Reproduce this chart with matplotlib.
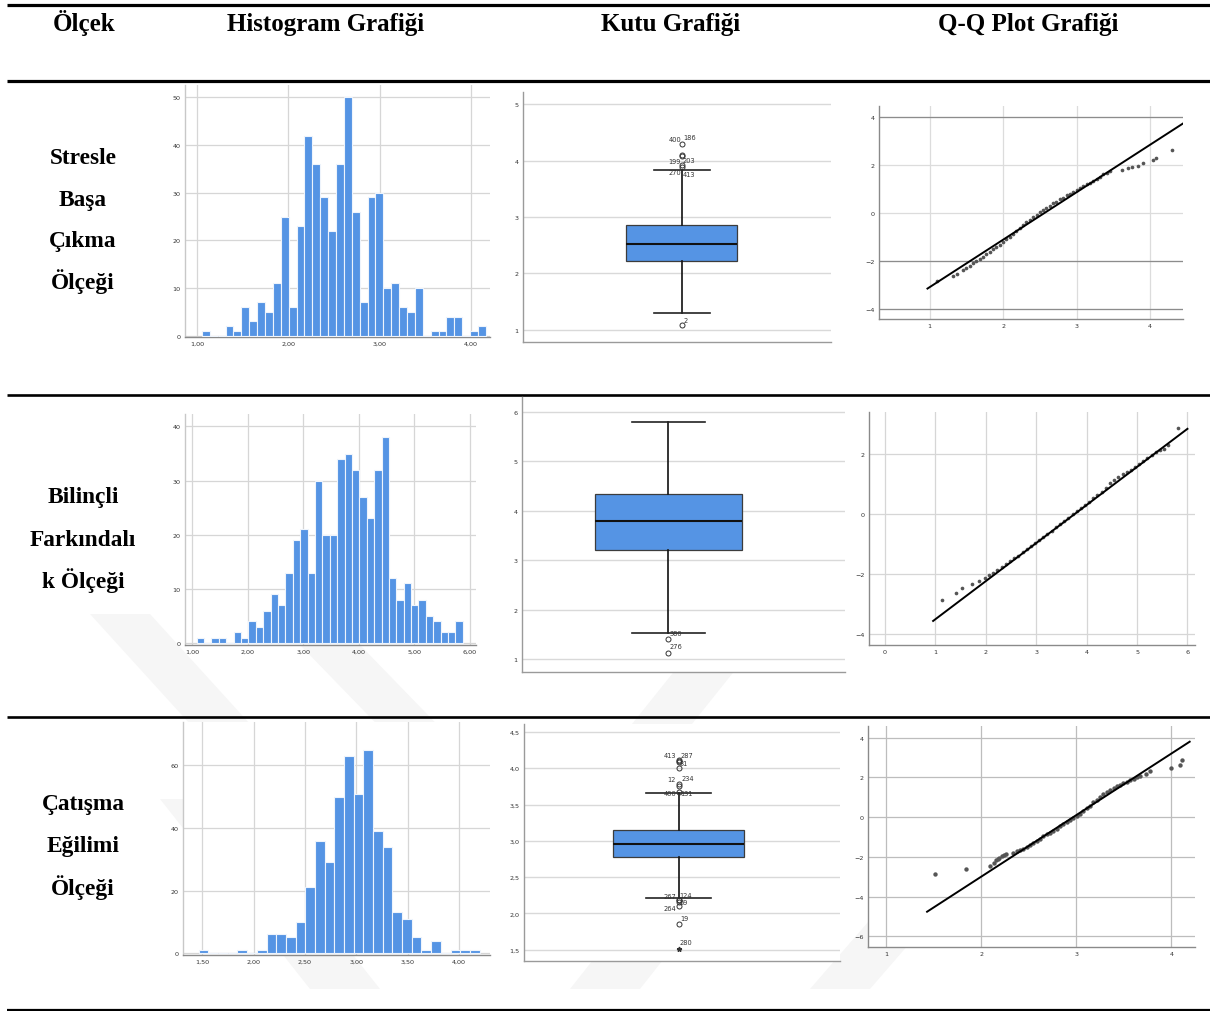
import numpy as np
import matplotlib
matplotlib.use("Agg")
import matplotlib.pyplot as plt

# ---------------- data ----------------
header_labels = ["Ölçek", "Histogram Grafiği", "Kutu Grafiği", "Q-Q Plot Grafiği"]
scale_names = [["Stresle", "Başa", "Çıkma", "Ölçeği"],
               ["Bilinçli", "Farkındalı", "k Ölçeği"],
               ["Çatışma", "Eğilimi", "Ölçeği"]]

# Histograms (bin start, bin width, counts)
h1_start, h1_width = 1.055, 0.0864
h1_counts = [1, 0, 0, 2, 1, 6, 3, 7, 5, 11, 25, 6, 23, 42, 36, 29, 22, 36, 50, 26, 7, 29,
             30, 10, 11, 6, 5, 10, 0, 1, 1, 4, 4, 0, 1, 2]
h1_xticks = [1, 2, 3, 4]
h1_xticklabels = ["1,00", "2,00", "3,00", "4,00"]
h1_yticks = [0, 10, 20, 30, 40, 50]

h2_start, h2_width = 1.078, 0.1332
h2_counts = [1, 0, 1, 1, 0, 2, 1, 4, 3, 6, 9, 7, 13, 19, 21, 13, 30, 20, 20, 34, 35, 32,
             27, 23, 32, 38, 12, 8, 11, 7, 8, 5, 4, 2, 2, 4]
h2_xticks = [1, 2, 3, 4, 5, 6]
h2_xticklabels = ["1,00", "2,00", "3,00", "4,00", "5,00", "6,00"]
h2_yticks = [0, 10, 20, 30, 40]

h3_start, h3_width = 1.467, 0.0942
h3_counts = [1, 0, 0, 0, 1, 0, 1, 6, 6, 5, 10, 21, 36, 29, 50, 63, 51, 65, 39, 34, 13, 11,
             5, 1, 4, 0, 1, 1, 1]
h3_xticks = [1.5, 2, 2.5, 3, 3.5, 4]
h3_xticklabels = ["1,50", "2,00", "2,50", "3,00", "3,50", "4,00"]
h3_yticks = [0, 20, 40, 60]

# Box plots
b1_stats = dict(q1=2.212, med=2.521, q3=2.866, whislo=1.303, whishi=3.834)
b1_fliers = [1.08, 3.89, 3.92, 4.08, 4.10, 4.30]
b1_star = []
b1_ids = ["400", "186", "199", "203", "270", "413", "2"]
b1_ids_y = [4.30, 4.30, 4.09, 4.09, 3.90, 3.90, 1.08]
b1_yticks = [1, 2, 3, 4, 5]
b1_yticklabels = ["1", "2", "3", "4", "5"]

b2_stats = dict(q1=3.204, med=3.797, q3=4.336, whislo=1.539, whishi=5.798)
b2_fliers = [1.404, 1.135]
b2_star = []
b2_ids = ["380", "276"]
b2_ids_y = [1.404, 1.135]
b2_yticks = [1, 2, 3, 4, 5, 6]
b2_yticklabels = ["1", "2", "3", "4", "5", "6"]

b3_stats = dict(q1=2.777, med=2.961, q3=3.144, whislo=2.212, whishi=3.659)
b3_fliers = [4.118, 4.10, 4.09, 4.003, 3.78, 3.75, 3.67, 2.19, 2.18, 2.16, 2.097, 1.854]
b3_star = [1.51]
b3_ids = ["413", "287", "31", "12", "234", "400", "131", "267", "124", "69", "264", "19", "280"]
b3_ids_y = [4.118, 4.118, 4.09, 3.78, 3.78, 3.66, 3.66, 2.19, 2.19, 2.16, 2.097, 1.854, 1.51]
b3_yticks = [1.5, 2.0, 2.5, 3.0, 3.5, 4.0, 4.5]
b3_yticklabels = ["1,5", "2,0", "2,5", "3,0", "3,5", "4,0", "4,5"]

# Q-Q plots (observed value, expected normal value) + reference line end points
qq1_obs = [1.100, 1.318, 1.373, 1.455, 1.500, 1.545, 1.591, 1.636, 1.682, 1.727, 1.773,
           1.818, 1.864, 1.909, 1.955, 2.000, 2.045, 2.091, 2.136, 2.182, 2.227, 2.273,
           2.318, 2.364, 2.409, 2.455, 2.500, 2.545, 2.591, 2.636, 2.682, 2.727, 2.773,
           2.818, 2.864, 2.909, 2.955, 3.000, 3.045, 3.091, 3.136, 3.182, 3.227, 3.273,
           3.318, 3.364, 3.409, 3.455, 3.614, 3.705, 3.750, 3.841, 3.909, 4.036, 4.082, 4.295]
qq1_exp = [-2.825, -2.616, -2.533, -2.374, -2.283, -2.193, -2.102, -1.999, -1.907, -1.818,
           -1.712, -1.623, -1.517, -1.427, -1.322, -1.218, -1.100, -0.981, -0.863, -0.745,
           -0.626, -0.508, -0.390, -0.271, -0.167, -0.061, 0.028, 0.120, 0.209, 0.315, 0.404,
           0.482, 0.571, 0.649, 0.738, 0.817, 0.894, 0.970, 1.047, 1.123, 1.200, 1.276,
           1.353, 1.429, 1.520, 1.612, 1.688, 1.768, 1.809, 1.879, 1.907, 1.976, 2.074,
           2.213, 2.310, 2.630]
qq1_line_x = [0.97, 4.45]
qq1_line_y = [-3.15, 3.74]
qq1_xticks = [1, 2, 3, 4]
qq1_yticks = [-4, -2, 0, 2, 4]

qq2_obs = [1.132, 1.404, 1.536, 1.735, 1.868, 1.980, 2.066, 2.146, 2.225, 2.311, 2.397,
           2.477, 2.556, 2.642, 2.728, 2.808, 2.887, 2.974, 3.060, 3.139, 3.219, 3.305,
           3.391, 3.470, 3.550, 3.636, 3.722, 3.801, 3.881, 3.967, 4.053, 4.132, 4.212,
           4.298, 4.384, 4.464, 4.543, 4.629, 4.715, 4.795, 4.874, 4.960, 5.046, 5.126,
           5.205, 5.291, 5.377, 5.457, 5.536, 5.623, 5.808]
qq2_exp = [-2.856, -2.633, -2.478, -2.333, -2.222, -2.133, -2.047, -1.969, -1.879, -1.781,
           -1.672, -1.582, -1.482, -1.384, -1.276, -1.174, -1.074, -0.966, -0.856, -0.767,
           -0.667, -0.557, -0.448, -0.348, -0.247, -0.127, -0.018, 0.094, 0.183, 0.292,
           0.402, 0.513, 0.614, 0.734, 0.877, 1.021, 1.133, 1.231, 1.318, 1.396, 1.474,
           1.572, 1.670, 1.760, 1.849, 1.947, 2.044, 2.123, 2.157, 2.299, 2.856]
qq2_line_x = [0.954, 6.0]
qq2_line_y = [-3.56, 2.83]
qq2_xticks = [0, 1, 2, 3, 4, 5, 6]
qq2_yticks = [-4, -2, 0, 2]

qq3_obs = [1.510, 1.844, 2.090, 2.133, 2.154, 2.171, 2.189, 2.213, 2.238, 2.259, 2.337,
           2.372, 2.407, 2.442, 2.477, 2.512, 2.548, 2.583, 2.618, 2.653, 2.688, 2.724,
           2.759, 2.794, 2.829, 2.864, 2.900, 2.935, 2.970, 3.005, 3.040, 3.075, 3.110,
           3.146, 3.181, 3.216, 3.251, 3.286, 3.321, 3.357, 3.392, 3.427, 3.462, 3.497,
           3.533, 3.568, 3.603, 3.638, 3.673, 3.737, 3.779, 3.997, 4.095, 4.113]
qq3_exp = [-2.852, -2.601, -2.466, -2.299, -2.181, -2.114, -2.047, -1.963, -1.913, -1.846,
           -1.795, -1.711, -1.661, -1.594, -1.510, -1.409, -1.309, -1.208, -1.091, -0.973,
           -0.872, -0.789, -0.705, -0.604, -0.470, -0.336, -0.235, -0.134, -0.034, 0.067,
           0.168, 0.285, 0.436, 0.570, 0.738, 0.872, 1.007, 1.141, 1.258, 1.376, 1.477,
           1.544, 1.628, 1.695, 1.779, 1.846, 1.930, 1.997, 2.047, 2.181, 2.315, 2.466,
           2.617, 2.852]
qq3_line_x = [1.429, 4.194]
qq3_line_y = [-4.765, 3.79]
qq3_xticks = [1, 2, 3, 4]
qq3_yticks = [-6, -4, -2, 0, 2, 4]

# ---------------- layout / style ----------------
W, H = 1210, 1012
BLUE = "#5594e4"
SERIF = "Liberation Serif"
TICKFS = 4.6

fig = plt.figure(figsize=(W / 100, H / 100), dpi=100)
fig.patch.set_facecolor("white")

bg = fig.add_axes([0, 0, 1, 1], zorder=-5)
bg.set_xlim(0, W)
bg.set_ylim(H, 0)
bg.axis("off")

# watermark (very faint)
wm = "#f6f6f6"
for poly in [
    [(90, 615), (150, 615), (300, 780), (240, 780)],
    [(270, 615), (330, 615), (490, 780), (430, 780)],
    [(580, 790), (640, 790), (780, 615), (720, 615)],
    [(160, 800), (230, 800), (380, 990), (310, 990)],
    [(570, 990), (640, 990), (790, 800), (720, 800)],
    [(810, 990), (870, 990), (1000, 840), (940, 840)],
]:
    bg.add_patch(plt.Polygon(poly, closed=True, color=wm, lw=0, zorder=0))

# table rules
for y, lw in [(5.5, 2.3), (82, 2.3), (396, 1.9), (718, 1.9), (1011, 1.6)]:
    bg.plot([7, W], [y, y], color="black", lw=lw, solid_capstyle="butt", zorder=2)

# header
for txt, xc in zip(header_labels, [84, 326, 671, 1028]):
    bg.text(xc, 31, txt, ha="center", va="baseline", fontsize=18,
            fontweight="bold", family=SERIF, color="black")

# row labels
row_label_y = [[158, 200, 241, 282], [498, 540, 581], [805, 847, 888]]
for names, ys in zip(scale_names, row_label_y):
    for nm, y in zip(names, ys):
        bg.text(83, y, nm, ha="center", va="center", fontsize=16.8,
                fontweight="bold", family=SERIF, color="black")


def ax_px(l, t, r, b):
    return fig.add_axes([l / W, 1 - b / H, (r - l) / W, (b - t) / H])


def style_common(ax, spine_col="#9a9a9a"):
    for s in ["top", "right"]:
        ax.spines[s].set_visible(False)
    for s in ["left", "bottom"]:
        ax.spines[s].set_color(spine_col)
        ax.spines[s].set_linewidth(1.0)
    ax.tick_params(labelsize=TICKFS, length=0, pad=3, colors="#333333")
    ax.set_axisbelow(True)


def draw_hist(rect, start, width, counts, xlim, ylim, xticks, xticklabels, yticks):
    ax = ax_px(*rect)
    edges = start + width * np.arange(len(counts))
    ax.bar(edges, counts, width=width, align="edge", color=BLUE,
           edgecolor="#eef4fc", linewidth=0.8, zorder=3)
    ax.set_xlim(xlim)
    ax.set_ylim(ylim)
    ax.set_xticks(xticks)
    ax.set_xticklabels(xticklabels)
    ax.set_yticks(yticks)
    ax.grid(True, color="#d6d6d6", lw=0.9)
    style_common(ax)
    ax.spines["left"].set_color("#c8c8c8")
    ax.spines["bottom"].set_color("#8a8a8a")
    return ax


def draw_box(rect, stats, fliers, star, ids, ids_y, offsets, ylim, yticks, yticklabels,
             pos, bw, cw):
    ax = ax_px(*rect)
    st = dict(stats)
    st["fliers"] = fliers
    ax.bxp([st], positions=[pos], widths=bw, capwidths=[cw], patch_artist=True,
           showfliers=True,
           boxprops=dict(facecolor=BLUE, edgecolor="#3c3c3c", linewidth=0.9),
           medianprops=dict(color="#111111", linewidth=1.5),
           whiskerprops=dict(color="#111111", linewidth=1.2),
           capprops=dict(color="#222222", linewidth=1.2),
           flierprops=dict(marker="o", markerfacecolor="none", markeredgecolor="#333333",
                           markersize=3.6, markeredgewidth=0.7))
    if star:
        ax.plot([pos] * len(star), star, marker="*", ls="none", color="#333333", ms=3.5)
    for t, yv, (dx, dy) in zip(ids, ids_y, offsets):
        ax.annotate(t, (pos, yv), xytext=(dx * 0.72, dy * 0.72), textcoords="offset points",
                    ha="center", va="center", fontsize=4.8, color="#333333")
    ax.set_xlim(0, 1)
    ax.set_ylim(ylim)
    ax.set_xticks([])
    ax.set_yticks(yticks)
    ax.set_yticklabels(yticklabels)
    ax.yaxis.grid(True, color="#d9d9d9", lw=1.0)
    style_common(ax)
    return ax


def draw_qq(rect, obs, exp, lx, ly, xlim, ylim, xticks, yticks, gridcol="#d6d6d6", ms=7):
    ax = ax_px(*rect)
    ax.scatter(obs, exp, s=ms, color="#555555", zorder=3, linewidths=0)
    ax.plot(lx, ly, color="black", lw=1.4, zorder=4)
    ax.set_xlim(xlim)
    ax.set_ylim(ylim)
    ax.set_xticks(xticks)
    ax.set_yticks(yticks)
    ax.grid(True, color=gridcol, lw=0.9)
    style_common(ax, "#8a8a8a")
    return ax


# Row 1
draw_hist((185, 86, 490, 338), h1_start, h1_width, h1_counts, (0.87, 4.21), (-0.27, 52.6),
          h1_xticks, h1_xticklabels, h1_yticks)
draw_box((523, 93, 831, 343), b1_stats, b1_fliers, b1_star, b1_ids, b1_ids_y,
         [(-7, 5), (8, 6.5), (-7, -5), (7, -4), (-7, -5.5), (7, -7.5), (4, 5.5)],
         (0.78, 5.22), b1_yticks, b1_yticklabels, 0.516, 0.36, 0.18)
ax = draw_qq((879, 107, 1183, 320), qq1_obs, qq1_exp, qq1_line_x, qq1_line_y,
             (0.31, 4.45), (-4.42, 4.47), qq1_xticks, qq1_yticks, gridcol="#dcdcdc")
for yv in [4, -2, -4]:
    ax.axhline(yv, color="#8c8c8c", lw=0.9, zorder=1)

# Row 2
draw_hist((185, 415, 476, 646), h2_start, h2_width, h2_counts, (0.868, 6.11), (-0.37, 42.3),
          h2_xticks, h2_xticklabels, h2_yticks)
draw_box((522, 398, 845, 673), b2_stats, b2_fliers, b2_star, b2_ids, b2_ids_y,
         [(8, 6.5), (7.7, 6.3)],
         (0.745, 6.30), b2_yticks, b2_yticklabels, 0.453, 0.456, 0.226)
draw_qq((869, 413, 1195, 646), qq2_obs, qq2_exp, qq2_line_x, qq2_line_y,
        (-0.318, 6.15), (-4.36, 3.39), qq2_xticks, qq2_yticks)

# Row 3
draw_hist((183, 723, 490, 956), h3_start, h3_width, h3_counts, (1.314, 4.30), (-0.6, 73.9),
          h3_xticks, h3_xticklabels, h3_yticks)
draw_box((524, 725, 840, 962), b3_stats, b3_fliers, b3_star, b3_ids, b3_ids_y,
         [(-9, 4.5), (8, 4.5), (5.5, -1), (-7.5, 5), (9, 6), (-8.5, 0), (7.5, 0),
          (-8.5, 4), (7.5, 5), (5.5, 0), (-8.5, -1.5), (6, 5.5), (7.5, 6.5)],
         (1.344, 4.61), b3_yticks, b3_yticklabels, 0.489, 0.412, 0.206)
draw_qq((868, 727, 1195, 948), qq3_obs, qq3_exp, qq3_line_x, qq3_line_y,
        (0.807, 4.25), (-6.54, 4.58), qq3_xticks, qq3_yticks, gridcol="#bdbdbd", ms=10)

fig.savefig("out.png", dpi=100, facecolor="white")
